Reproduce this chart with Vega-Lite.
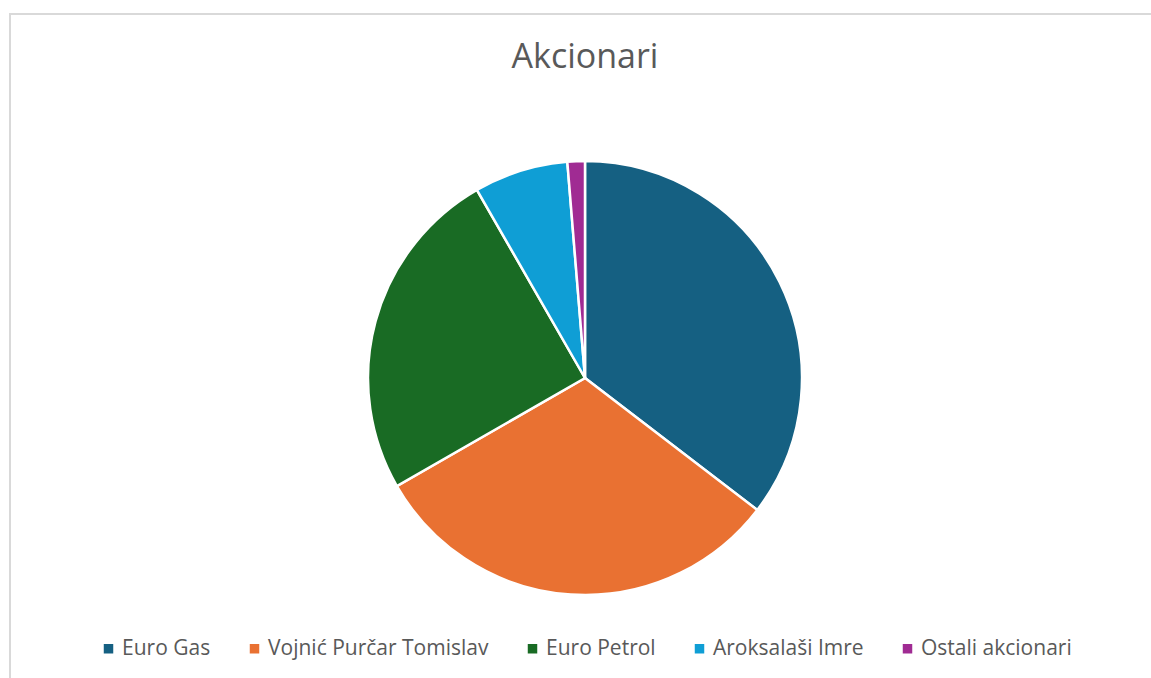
{
  "$schema": "https://vega.github.io/schema/vega-lite/v6.json",
  "autosize": "none",
  "padding": {"left": 10, "top": 14, "right": 0, "bottom": 0},
  "width": 1150,
  "height": 728,
  "title": {
    "text": "Akcionari",
    "anchor": "middle",
    "font": "Open Sans",
    "fontSize": 34,
    "fontWeight": "normal",
    "color": "#595959",
    "offset": -64
  },
  "data": {
    "values": [
      {"akcionar": "Euro Gas", "udio": 35.4, "red": 1},
      {"akcionar": "Vojnić Purčar Tomislav", "udio": 31.3, "red": 2},
      {"akcionar": "Euro Petrol", "udio": 25.0, "red": 3},
      {"akcionar": "Aroksalaši Imre", "udio": 7.0, "red": 4},
      {"akcionar": "Ostali akcionari", "udio": 1.3, "red": 5}
    ]
  },
  "layer": [
    {
      "mark": {"type": "point", "opacity": 0},
      "encoding": {
        "x": {"field": "udio", "type": "quantitative", "axis": null},
        "y": {"field": "red", "type": "quantitative", "axis": null}
      }
    },
    {
      "mark": {"type": "arc", "outerRadius": 217, "stroke": "#ffffff", "strokeWidth": 2.5},
      "encoding": {
        "theta": {"field": "udio", "type": "quantitative", "stack": true},
        "order": {"field": "red", "type": "quantitative"},
        "color": {
          "field": "akcionar",
          "type": "nominal",
          "scale": {
            "domain": ["Euro Gas", "Vojnić Purčar Tomislav", "Euro Petrol", "Aroksalaši Imre", "Ostali akcionari"],
            "range": ["#156082", "#E97132", "#196B24", "#0F9ED5", "#A02B93"]
          },
          "legend": {
            "orient": "bottom",
            "direction": "horizontal",
            "title": null,
            "offset": -104,
            "symbolType": "square",
            "symbolSize": 90,
            "symbolStrokeWidth": 0,
            "labelFont": "Open Sans",
            "labelFontSize": 21,
            "labelColor": "#595959",
            "labelOffset": 3,
            "columnPadding": 33,
            "labelLimit": 400
          }
        }
      }
    }
  ],
  "config": {
    "view": {"stroke": "#d9d9d9", "strokeWidth": 2},
    "legend": {"layout": {"bottom": {"anchor": "middle"}}}
  }
}
